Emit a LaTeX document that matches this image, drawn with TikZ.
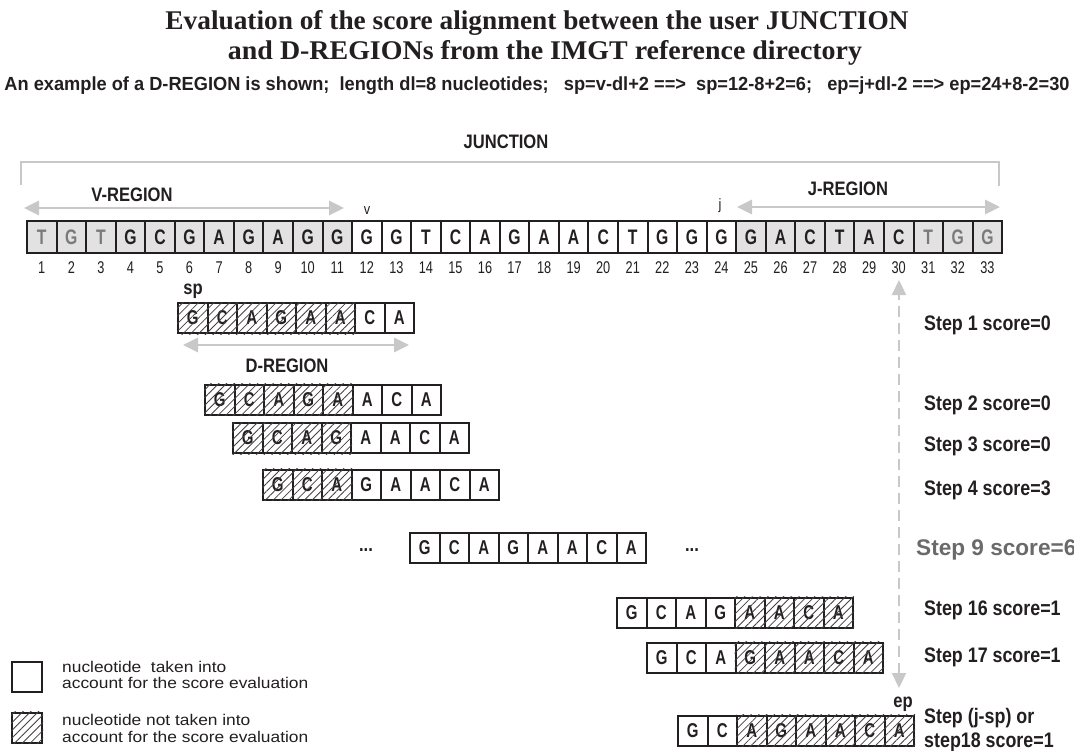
\documentclass[tikz,border=0pt]{standalone}
\usepackage{fontspec}
\usepackage{graphicx}
\usetikzlibrary{arrows.meta,patterns.meta}
\setmainfont{Liberation Serif}
\newfontfamily\nsans[FakeStretch=0.85]{Liberation Sans}
\newfontfamily\csans[FakeStretch=0.75]{Liberation Sans}
\newfontfamily\wsans[FakeStretch=1.12]{Liberation Sans}
\newfontfamily\psans{Liberation Sans}
\definecolor{cellgray}{HTML}{E2E2E2}
\definecolor{lettergray}{HTML}{7A7A7A}
\definecolor{guidegray}{HTML}{C8C8C8}
\definecolor{stepgray}{HTML}{6A6A6A}
\definecolor{inkdark}{HTML}{231F20}

\tikzset{
  jcell/.style={draw=inkdark, line width=2pt, minimum width=29.55pt, minimum height=32pt,
    inner sep=0pt, text=inkdark, font={\csans\bfseries\fontsize{21}{21}\selectfont}},
  vg/.style={fill=cellgray, text=lettergray},
  v/.style={fill=cellgray},
  w/.style={fill=white},
  dcell/.style={draw=inkdark, line width=2pt, minimum width=29.5pt, minimum height=30pt,
    inner sep=0pt, fill=white, text=inkdark, font={\csans\bfseries\fontsize{20}{20}\selectfont}},
  hatch/.style={pattern={Lines[angle=45,distance=5.5pt,line width=0.8pt]}, pattern color=inkdark!85},
  numlabel/.style={inner sep=0pt, text=inkdark, font={\csans\fontsize{17}{17}\selectfont}},
  lbl/.style={inner sep=0pt, text=inkdark, font={\nsans\bfseries\fontsize{19.5}{19.5}\selectfont}},
  small/.style={inner sep=0pt, text=inkdark, font={\nsans\fontsize{15}{15}\selectfont}},
  steplabel/.style={inner sep=0pt, anchor=west, align=left, text=inkdark,
    font={\nsans\bfseries\fontsize{21}{24}\selectfont}},
  legtext/.style={inner sep=0pt, anchor=west, align=left, text=inkdark,
    font={\wsans\fontsize{15.5}{16.5}\selectfont}},
  legbox/.style={draw=inkdark, line width=2pt, minimum width=30pt, minimum height=30pt, inner sep=0pt},
  bracket/.style={draw=guidegray, line width=2.8pt},
  span/.style={draw=guidegray, line width=2.8pt,
    arrows={Triangle[length=15pt,width=14pt]-Triangle[length=15pt,width=14pt]}},
  scan/.style={draw=guidegray, line width=2.2pt, dash pattern=on 11pt off 6pt,
    arrows={Triangle[length=15pt,width=14pt]-Triangle[length=15pt,width=14pt]}},
}

\begin{document}
\begin{tikzpicture}[x=1pt,y=-1pt]
\useasboundingbox (0,0) rectangle (1074,750);
\fill[white] (0,0) rectangle (1074,750);

% headings
\node[inner sep=0pt, text=inkdark, font={\bfseries\fontsize{27}{27}\selectfont}] (title1) at (537,23)
  {\resizebox{743pt}{\height}{Evaluation of the score alignment between the user JUNCTION}};
\node[inner sep=0pt, text=inkdark, font={\bfseries\fontsize{27}{27}\selectfont}] (title2) at (545,53)
  {\resizebox{634pt}{\height}{and D-REGIONs from the IMGT reference directory}};
\node[inner sep=0pt, text=inkdark, font={\nsans\bfseries\fontsize{19}{19}\selectfont}] (sub) at (537,86)
  {\resizebox{1065pt}{\height}{An example of a D-REGION is shown;\ \ length dl=8 nucleotides;\ \ \ sp=v-dl+2 ==>\ \ sp=12-8+2=6;\ \ \ ep=j+dl-2 ==> ep=24+8-2=30}};

% junction bracket
\node[lbl] (junction) at (506,142) {JUNCTION};
\coordinate (brLb) at (21,185);
\coordinate (brLt) at (21,162);
\coordinate (brRt) at (999,162);
\coordinate (brRb) at (999,186);
\draw[bracket] (brLb) -- (brLt) -- (brRt) -- (brRb);

% V and J regions
\node[lbl] (vreg) at (132,195) {V-REGION};
\coordinate (vA) at (24,208);
\coordinate (vB) at (344,208);
\draw[span] (vA) -- (vB);
\node[lbl] (jreg) at (848,189) {J-REGION};
\coordinate (jA) at (737,207);
\coordinate (jB) at (1000,207);
\draw[span] (jA) -- (jB);
\node[small] (vmark) at (367,211) {v};
\node[small] (jmark) at (720,206) {j};

% junction sequence with positions
\foreach \b/\k [count=\i] in {T/vg,G/vg,T/vg,G/v,C/v,G/v,A/v,G/v,A/v,G/v,G/v,
    G/w,G/w,T/w,C/w,A/w,G/w,A/w,A/w,C/w,T/w,G/w,G/w,G/w,
    G/v,A/v,C/v,T/v,A/v,C/v,T/vg,G/vg,G/vg} {
  \node[jcell,\k] (j\i) at ({27+29.55*(\i-0.5)},237) {\b};
  \path (j\i.south) ++(0,14) node[numlabel] (n\i) {\i};
}

% D-REGION placed at successive start positions
\foreach \r/\sx/\cy/\ha/\hb in {1/178/318/1/6, 2/205/399.5/1/5, 3/233/438/1/4, 4/263/484.5/1/3,
    9/410/548/0/0, 16/617/612.5/5/8, 17/647/657.5/4/8, 18/678/730.5/3/8} {
  \foreach \b [count=\k] in {G,C,A,G,A,A,C,A}
    \node[dcell] (d\r-\k) at ({\sx+29.5*(\k-0.5)},\cy) {\b};
  \ifnum\ha>0
    \foreach \k in {\ha,...,\hb}
      \fill[hatch] (d\r-\k.south west) rectangle (d\r-\k.north east);
  \fi
}

\node[lbl] (sp) at (193,291) {sp};
\node[lbl] (ep) at (903,704) {ep};
\node[lbl] (dreg) at (287,366) {D-REGION};
\coordinate (dA) at (183,345);
\coordinate (dB) at (409,345);
\draw[span] (dA) -- (dB);

\node[lbl] (dotsL) at (366,550) {...};
\node[lbl] (dotsR) at (692,550) {...};

% scanning range
\coordinate (scanTop) at (899,280);
\coordinate (scanBot) at (899,688);
\draw[scan] (scanBot) -- (scanTop);

% scores
\node[steplabel] (s1) at (924,325) {Step 1 score=0};
\node[steplabel] (s2) at (924,405) {Step 2 score=0};
\node[steplabel] (s3) at (924,446) {Step 3 score=0};
\node[steplabel] (s4) at (924,490) {Step 4 score=3};
\node[inner sep=0pt, anchor=west, text=stepgray, font={\psans\bfseries\fontsize{22.6}{22.6}\selectfont}] (s9) at (916,550) {Step 9 score=6};
\node[steplabel] (s16) at (924,610) {Step 16 score=1};
\node[steplabel] (s17) at (924,657) {Step 17 score=1};
\node[steplabel] (s18) at (924,730) {Step (j-sp) or\\step18 score=1};

% legend
\node[legbox] (leg1) at (27,676.5) {};
\node[legtext] (legt1) at (62,675) {nucleotide\ \ taken into\\account for the score evaluation};
\node[legbox] (leg2) at (27,727.5) {};
\fill[hatch] (leg2.south west) rectangle (leg2.north east);
\node[legtext] (legt2) at (62,728.5) {nucleotide not taken into\\account for the score evaluation};
\end{tikzpicture}
\end{document}
